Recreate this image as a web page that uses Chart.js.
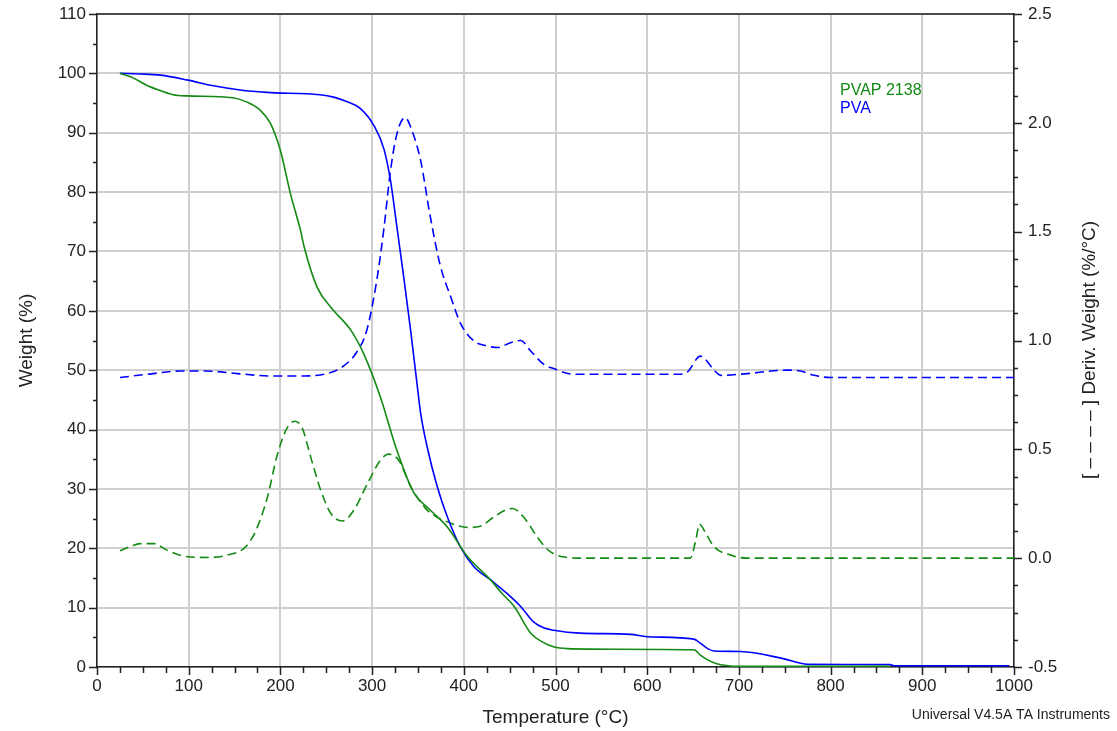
<!DOCTYPE html>
<html>
<head>
<meta charset="utf-8">
<script src="https://cdn.jsdelivr.net/npm/chart.js@4.4.0/dist/chart.umd.min.js"></script>
<style>
  html, body { margin: 0; padding: 0; background: #fff; }
  #wrap { width: 1117px; height: 731px; position: relative; }
</style>
</head>
<body>
<div id="wrap"><canvas id="tga"></canvas></div>
<script>
// PVAP 2138 - weight (%)
const pvapTemp = [25, 40, 54, 69, 83, 98, 148, 163, 178, 189, 200, 211, 222, 226, 240, 255, 277, 291, 309, 327, 345, 363, 382, 404, 429, 441, 455, 473, 486, 498, 513, 564, 651, 658, 666, 675, 684, 700, 865];
const pvapWeight = [100, 99.2, 98.0, 97.1, 96.4, 96.2, 95.9, 95.2, 93.8, 91.6, 87.0, 79.7, 73.5, 70.7, 64.0, 60.6, 56.7, 52.7, 45.5, 36.5, 29.5, 26.5, 23.6, 18.6, 14.7, 12.5, 10.2, 5.7, 4.2, 3.4, 3.1, 3.0, 2.9, 2.0, 1.2, 0.6, 0.3, 0.1, 0.1];

// PVA - weight (%)
const pvaTemp = [25, 47, 69, 98, 127, 156, 185, 243, 258, 273, 287, 302, 313, 320, 327, 335, 342, 349, 353, 360, 371, 382, 396, 411, 429, 447, 462, 476, 487, 498, 527, 582, 600, 651, 658, 666, 673, 702, 746, 775, 865, 870, 995];
const pvaWeight = [100, 99.9, 99.7, 98.9, 97.9, 97.2, 96.8, 96.4, 96.0, 95.2, 94.1, 91.2, 87.2, 82.0, 74.2, 65.1, 56.7, 47.7, 42.7, 37.1, 30.4, 25.3, 20.3, 16.9, 14.7, 12.4, 10.2, 7.6, 6.6, 6.2, 5.7, 5.5, 5.1, 4.7, 4.0, 3.1, 2.7, 2.6, 1.5, 0.45, 0.4, 0.2, 0.2];

// PVAP 2138 - deriv. weight (%/°C)
const pvapDerivTemp = [25, 37, 47, 62, 76, 95, 124, 142, 160, 168, 175, 186, 196, 207, 216, 224, 233, 244, 255, 268, 280, 295, 309, 318, 329, 342, 358, 370, 382, 404, 418, 433, 445, 453, 465, 480, 490, 498, 510, 527, 647, 653, 657, 664, 673, 691, 709, 1000];
const pvapDeriv = [0.034, 0.055, 0.067, 0.067, 0.037, 0.009, 0.003, 0.014, 0.044, 0.085, 0.144, 0.282, 0.465, 0.596, 0.629, 0.596, 0.465, 0.312, 0.205, 0.171, 0.22, 0.343, 0.45, 0.478, 0.45, 0.33, 0.23, 0.19, 0.167, 0.141, 0.147, 0.19, 0.22, 0.228, 0.19, 0.098, 0.045, 0.02, 0.005, 0.0, 0.0, 0.083, 0.156, 0.113, 0.052, 0.014, 0.0, 0.0];

// PVA - deriv. weight (%/°C)
const pvaDerivTemp = [25, 55, 91, 118, 153, 189, 225, 255, 269, 283, 294, 305, 313, 320, 327, 336, 343, 353, 363, 374, 386, 397, 411, 425, 437, 451, 462, 473, 487, 498, 520, 636, 644, 658, 673, 680, 709, 753, 767, 782, 800, 1000];
const pvaDeriv = [0.83, 0.845, 0.86, 0.86, 0.848, 0.837, 0.837, 0.853, 0.883, 0.945, 1.044, 1.274, 1.519, 1.779, 1.948, 2.024, 1.97, 1.825, 1.58, 1.35, 1.197, 1.074, 0.998, 0.975, 0.968, 0.99, 1.0, 0.952, 0.891, 0.871, 0.845, 0.845, 0.856, 0.928, 0.864, 0.84, 0.848, 0.864, 0.86, 0.84, 0.83, 0.83];

const seriesNames = ["PVAP 2138", "PVA"];
const seriesColors = ["#138a13", "#0000ff"];

const xTitle = "Temperature (°C)";
const yTitle = "Weight (%)";
const y2Title = "[ – – – – ] Deriv. Weight (%/°C)";
const footer = "Universal V4.5A TA Instruments";

const FONT = "'Liberation Sans', Arial, sans-serif";

function toPoints(xs, ys) {
  return xs.map((x, i) => ({ x: x, y: ys[i] }));
}

// fixed scale boxes so the plot area sits where the original one does
function fixVertical(width) {
  return (s) => { s.width = width; s.paddingTop = 0; s.paddingBottom = 0; };
}

// ticks, top frame, right title, in-plot legend and footer
const decorations = {
  id: "decorations",
  afterDraw(chart) {
    const ctx = chart.ctx;
    const area = chart.chartArea;
    const sx = chart.scales.x;
    const sy = chart.scales.y;
    const sy2 = chart.scales.y2;
    ctx.save();
    ctx.strokeStyle = "#222";
    ctx.lineWidth = 1.5;
    ctx.beginPath();
    ctx.moveTo(area.left, area.top);
    ctx.lineTo(area.right, area.top);
    // x ticks
    for (let v = 0; v <= 1000; v += 25) {
      const px = Math.round(sx.getPixelForValue(v)) + 0.5;
      const len = v % 100 === 0 ? 8 : 6;
      ctx.moveTo(px, area.bottom);
      ctx.lineTo(px, area.bottom + len);
    }
    // left ticks
    for (let v = 0; v <= 110; v += 5) {
      const py = Math.round(sy.getPixelForValue(v)) + 0.5;
      const len = v % 10 === 0 ? 8 : 4;
      ctx.moveTo(area.left, py);
      ctx.lineTo(area.left - len, py);
    }
    // right ticks
    for (let i = 0; i <= 24; i++) {
      const v = -0.5 + i * 0.125;
      const py = Math.round(sy2.getPixelForValue(v)) + 0.5;
      const len = i % 4 === 0 ? 8 : 4;
      ctx.moveTo(area.right, py);
      ctx.lineTo(area.right + len, py);
    }
    ctx.stroke();

    // right axis title reads bottom to top
    ctx.save();
    ctx.translate(1090, 350);
    ctx.rotate(-Math.PI / 2);
    ctx.font = "19px " + FONT;
    ctx.fillStyle = "#222";
    ctx.textAlign = "center";
    ctx.textBaseline = "middle";
    ctx.fillText(y2Title, 0, 0);
    ctx.restore();

    ctx.font = "16px " + FONT;
    ctx.textAlign = "left";
    ctx.textBaseline = "middle";
    seriesNames.forEach((name, i) => {
      ctx.fillStyle = seriesColors[i];
      ctx.fillText(name, 840, 91 + i * 18);
    });

    ctx.font = "14px " + FONT;
    ctx.fillStyle = "#222";
    ctx.textAlign = "right";
    ctx.fillText(footer, 1110, 715);
    ctx.restore();
  }
};

const gridColor = "#cfcfcf";

const chart = new Chart(document.getElementById("tga"), {
  type: "line",
  data: {
    datasets: [
      {
        label: seriesNames[0] + " weight",
        data: toPoints(pvapTemp, pvapWeight),
        yAxisID: "y",
        borderColor: seriesColors[0],
        borderWidth: 1.6
      },
      {
        label: seriesNames[1] + " weight",
        data: toPoints(pvaTemp, pvaWeight),
        yAxisID: "y",
        borderColor: seriesColors[1],
        borderWidth: 1.6
      },
      {
        label: seriesNames[0] + " deriv",
        data: toPoints(pvapDerivTemp, pvapDeriv),
        yAxisID: "y2",
        borderColor: seriesColors[0],
        borderWidth: 1.6,
        borderDash: [9, 5]
      },
      {
        label: seriesNames[1] + " deriv",
        data: toPoints(pvaDerivTemp, pvaDeriv),
        yAxisID: "y2",
        borderColor: seriesColors[1],
        borderWidth: 1.6,
        borderDash: [9, 5]
      }
    ]
  },
  options: {
    responsive: true,
    maintainAspectRatio: false,
    devicePixelRatio: 1,
    animation: false,
    layout: { padding: { top: 14, left: 0, right: 0, bottom: 0 } },
    elements: {
      point: { radius: 0 },
      line: { cubicInterpolationMode: "monotone", fill: false }
    },
    plugins: {
      legend: { display: false },
      tooltip: { enabled: false }
    },
    scales: {
      x: {
        type: "linear",
        position: "bottom",
        min: 0,
        max: 1000,
        afterFit: (s) => { s.height = 64; s.paddingLeft = 0; s.paddingRight = 0; },
        ticks: {
          stepSize: 100,
          autoSkip: false,
          maxRotation: 0,
          padding: 9,
          color: "#222",
          font: { family: FONT, size: 17 },
          callback: (v) => String(v)
        },
        grid: { color: gridColor, lineWidth: 2, drawTicks: false },
        border: { color: "#222", width: 1.5 },
        title: {
          display: true,
          text: xTitle,
          color: "#222",
          font: { family: FONT, size: 19 },
          padding: { top: 0, bottom: 2 }
        }
      },
      y: {
        type: "linear",
        position: "left",
        min: 0,
        max: 110,
        afterFit: fixVertical(97),
        ticks: {
          stepSize: 10,
          autoSkip: false,
          padding: 11,
          color: "#222",
          font: { family: FONT, size: 17 }
        },
        grid: { color: gridColor, lineWidth: 2, drawTicks: false },
        border: { color: "#222", width: 1.5 },
        title: {
          display: true,
          text: yTitle,
          color: "#222",
          font: { family: FONT, size: 19 },
          padding: { top: 15, bottom: 0 }
        }
      },
      y2: {
        type: "linear",
        position: "right",
        min: -0.5,
        max: 2.5,
        afterFit: fixVertical(103),
        ticks: {
          stepSize: 0.5,
          autoSkip: false,
          padding: 14,
          color: "#222",
          font: { family: FONT, size: 17 },
          callback: (v) => Number(v).toFixed(1)
        },
        grid: { display: false, drawTicks: false },
        border: { color: "#222", width: 1.5 },
        title: { display: false }
      }
    }
  },
  plugins: [decorations]
});
</script>
</body>
</html>
